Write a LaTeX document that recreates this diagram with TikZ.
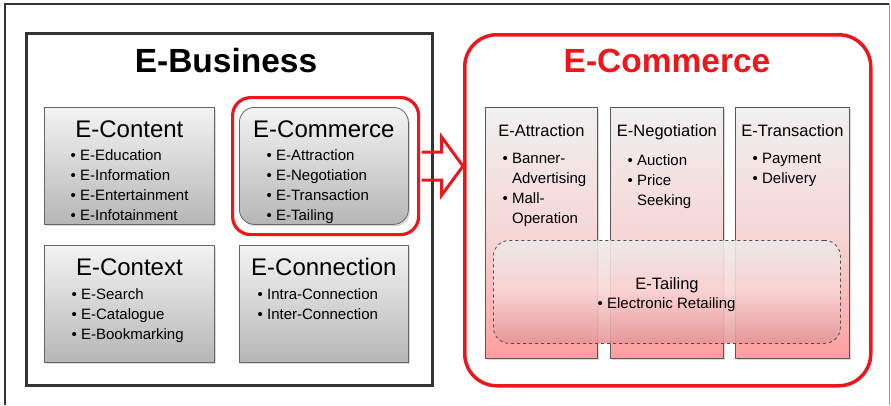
\documentclass[tikz,border=0pt]{standalone}
\usepackage{fontspec}
\setmainfont{Liberation Sans}
\usepackage{tikz}
\usetikzlibrary{shadows,calc}

\definecolor{ecred}{RGB}{236,22,28}
\definecolor{boxtop}{RGB}{243,243,243}
\definecolor{boxbot}{RGB}{182,182,182}
\definecolor{coltop}{RGB}{240,240,240}
\definecolor{colmid}{RGB}{246,214,214}
\definecolor{colbot}{RGB}{255,158,158}
\definecolor{tltop}{RGB}{236,234,234}
\definecolor{tlmid}{RGB}{250,212,212}
\definecolor{tlbot}{RGB}{228,150,150}

\newcommand{\itm}{\textbullet\ }
\newcommand{\hng}{\phantom{\textbullet\ }}

\tikzset{
  shd/.style={drop shadow={shadow xshift=1.5pt,shadow yshift=-2pt,opacity=0.3}},
  graybox/.style={draw=black!60,line width=0.8pt,top color=boxtop,bottom color=boxbot,
    anchor=north west,inner sep=0,shd},
  colbox/.style={draw=black!65,line width=0.8pt,top color=coltop,bottom color=colbot,
    middle color=colmid,anchor=north west,inner sep=0,minimum height=251pt,shd},
  bigtitle/.style={font=\fontsize{33.5}{38}\selectfont\bfseries,inner sep=0,anchor=base},
  ttl/.style={font=\fontsize{24}{28}\selectfont,inner sep=0,anchor=base},
  coltitle/.style={font=\fontsize{16.5}{20}\selectfont,inner sep=0,anchor=base},
  % base west sits on the last line
  lst/.style={font=\fontsize{15}{20}\selectfont,align=left,inner sep=0,anchor=base west}
}

\begin{document}
\begin{tikzpicture}[x=1pt,y=-1pt]
\useasboundingbox (0,0) rectangle (891,405);
\draw[line width=1.4pt,black!80] (5,405) -- (5,4) -- (889,4);
\draw[line width=0.8pt,black!40] (889,4) -- (889,405);

% left part
\node[draw=black!80,line width=3pt,anchor=north west,minimum width=406pt,minimum height=352pt,inner sep=0] (biz) at (25,32) {};
\node[bigtitle] (bizT) at (226,72) {E-Business};

\node[graybox,minimum width=170pt,minimum height=117pt] (content) at (44,107) {};
\node[graybox,minimum width=169pt,minimum height=117pt,rounded corners=15pt] (comm) at (239,107) {};
\node[graybox,minimum width=170pt,minimum height=117pt] (context) at (44,245) {};
\node[graybox,minimum width=169pt,minimum height=117pt] (conn) at (239,245) {};
\node[draw=ecred,line width=3.2pt,rounded corners=18pt,anchor=north west,minimum width=186pt,minimum height=137pt,inner sep=0] (sel) at (231,96) {};

\node[ttl] (contentT) at (content.center |- 0,137.5) {E-Content};
\node[lst] (contentL) at (70.5,220.5) {\itm E-Education\\ \itm E-Information\\ \itm E-Entertainment\\ \itm E-Infotainment};
\node[ttl] (commT) at (comm.center |- 0,137.5) {E-Commerce};
\node[lst] (commL) at (266.5,220.5) {\itm E-Attraction\\ \itm E-Negotiation\\ \itm E-Transaction\\ \itm E-Tailing};
\node[ttl] (contextT) at (context.center |- 0,275.5) {E-Context};
\node[lst] (contextL) at (71.5,339.5) {\itm E-Search\\ \itm E-Catalogue\\ \itm E-Bookmarking};
\node[ttl] (connT) at (conn.center |- 0,275.5) {E-Connection};
\node[lst] (connL) at (257.5,319.5) {\itm Intra-Connection\\ \itm Inter-Connection};

% right part
\node[draw=ecred,line width=3.5pt,rounded corners=32pt,anchor=north west,minimum width=406pt,minimum height=351pt,inner sep=0] (ecom) at (463,33) {};
\node[bigtitle,text=ecred] (ecomT) at (667,72) {E-Commerce};

\draw[ecred,line width=3pt,line join=miter] ($(sel.east)+(1.5,-14)$) -- ++(20,0) -- ++(0,-15)
  -- (ecom.west |- sel.east) -- ($(sel.east)+(21.5,29)$) -- ++(0,-15) -- ($(sel.east)+(1.5,14)$);

\node[colbox,minimum width=112pt] (attr) at (485,107) {};
\node[colbox,minimum width=113pt] (nego) at (610,107) {};
\node[colbox,minimum width=114pt] (trans) at (735,107) {};
\node[draw=black!70,dashed,line width=0.8pt,rounded corners=16pt,anchor=north west,minimum width=347pt,minimum height=103pt,inner sep=0,
  top color=tltop,bottom color=tlbot,middle color=tlmid,fill opacity=0.9] (tail) at (493,240) {};

\node[coltitle] (attrT) at (attr.center |- 0,136) {E-Attraction};
\node[lst] (attrL) at (502.5,223.5) {\itm Banner-\\ \hng Advertising\\ \itm Mall-\\ \hng Operation};
\node[coltitle] (negoT) at (nego.center |- 0,136) {E-Negotiation};
\node[lst] (negoL) at (627.5,205.5) {\itm Auction\\ \itm Price\\ \hng Seeking};
\node[coltitle] (transT) at (trans.center |- 0,136) {E-Transaction};
\node[lst] (transL) at (752.5,183.5) {\itm Payment\\ \itm Delivery};
\node[coltitle] (tailT) at (667,289) {E-Tailing};
\node[lst] (tailL) at (597.5,308.5) {\itm Electronic Retailing};
\end{tikzpicture}
\end{document}
